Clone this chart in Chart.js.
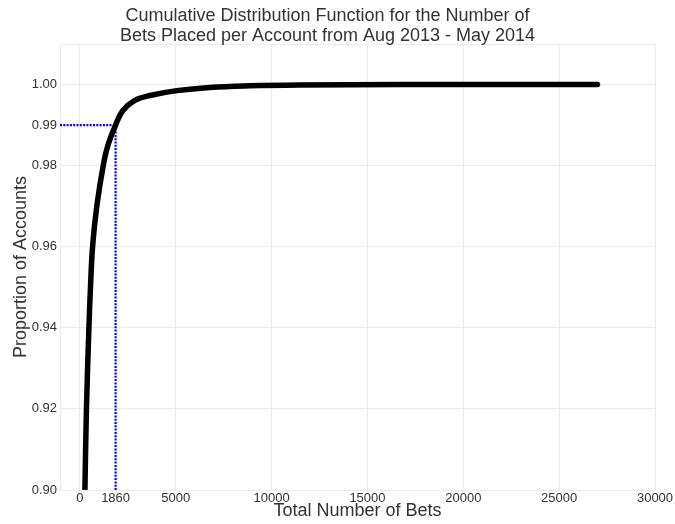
<!DOCTYPE html>
<html>
<head>
<meta charset="utf-8">
<title>CDF of bets per account</title>
<script src="https://cdn.jsdelivr.net/npm/chart.js@4.4.1/dist/chart.umd.min.js"></script>
<style>
    html, body { margin: 0; padding: 0; background: #ffffff; }
    #chartCdf { display: block; }
</style>
</head>
<body>
<canvas id="chartCdf" width="675" height="524"></canvas>
<script>
// --- Data ---
const betCounts = [200, 260, 339, 469, 550, 660, 880, 1214, 1460, 1860, 2240, 2866, 3650, 5050, 6770, 8860, 11460, 16680, 27000];
const proportions = [0.885, 0.900, 0.920, 0.940, 0.950, 0.960, 0.970, 0.980, 0.985, 0.990, 0.9936, 0.9961, 0.9973, 0.9985, 0.9993, 0.9997, 0.9999, 1.0, 1.0];

const markerBets = 1860;
const markerProportion = 0.99;

const xTickValues = [0, 1860, 5000, 10000, 15000, 20000, 25000, 30000];
const yTickValues = [0.90, 0.92, 0.94, 0.96, 0.98, 0.99, 1.00, 1.01];

const xMin = -1040, xMax = 30000;
const yMin = 0.90, yMax = 1.01;

const textColor = '#333333';
const gridColor = '#ebebeb';
const fontFamily = "'Liberation Sans', Arial, sans-serif";

document.addEventListener('DOMContentLoaded', () => {
    const ctx = document.getElementById('chartCdf');
    if (!ctx) return;

    const cdfPoints = betCounts.map((b, i) => ({ x: b, y: proportions[i] }));

    new Chart(ctx, {
        type: 'line',
        data: {
            datasets: [{
                label: 'CDF',
                data: cdfPoints,
                borderColor: '#000000',
                borderWidth: 5.5,
                borderCapStyle: 'round',
                pointRadius: 0,
                tension: 0.4,
                clip: 0
            }, {
                label: 'h-marker',
                data: [{ x: xMin, y: markerProportion }, { x: markerBets, y: markerProportion }],
                borderColor: '#0000ff',
                borderWidth: 2.2,
                borderDash: [2, 1.3],
                pointRadius: 0,
                clip: 0
            }, {
                label: 'v-marker',
                data: [{ x: markerBets, y: yMin }, { x: markerBets, y: markerProportion }],
                borderColor: '#0000ff',
                borderWidth: 2.2,
                borderDash: [2, 1.3],
                pointRadius: 0,
                clip: 0
            }]
        },
        options: {
            responsive: false,
            animation: false,
            layout: { padding: { left: 0, right: 20, top: 0, bottom: 0 } },
            plugins: {
                legend: { display: false },
                tooltip: { enabled: false },
                title: {
                    display: true,
                    text: ['Cumulative Distribution Function for the Number of',
                           'Bets Placed per Account from Aug 2013 - May 2014'],
                    color: textColor,
                    font: { family: fontFamily, size: 18, weight: 'normal', lineHeight: 20 / 18 },
                    padding: { top: 6, bottom: -2 }
                }
            },
            scales: {
                x: {
                    type: 'linear',
                    min: xMin,
                    max: xMax,
                    afterBuildTicks: (scale) => {
                        scale.ticks = xTickValues.map(v => ({ value: v }));
                    },
                    afterFit: (scale) => { scale.height = 34; },
                    ticks: {
                        color: textColor,
                        font: { family: fontFamily, size: 13 },
                        padding: 1,
                        maxRotation: 0,
                        autoSkip: false,
                        callback: (v) => String(v)
                    },
                    grid: {
                        drawTicks: false,
                        color: (c) => (c.tick && c.tick.value === markerBets) ? 'rgba(0,0,0,0)' : gridColor,
                        lineWidth: 1
                    },
                    border: { color: gridColor },
                    title: {
                        display: true,
                        text: 'Total Number of Bets',
                        color: textColor,
                        font: { family: fontFamily, size: 18 },
                        padding: { top: 0, bottom: 2 }
                    }
                },
                y: {
                    type: 'linear',
                    min: yMin,
                    max: yMax,
                    afterBuildTicks: (scale) => {
                        scale.ticks = yTickValues.map(v => ({ value: v }));
                    },
                    afterFit: (scale) => { scale.width = 60; },
                    ticks: {
                        color: textColor,
                        font: { family: fontFamily, size: 13 },
                        padding: 3,
                        autoSkip: false,
                        callback: (v) => v > 1.005 ? '' : v.toFixed(2)
                    },
                    grid: {
                        drawTicks: false,
                        color: (c) => (c.tick && Math.abs(c.tick.value - markerProportion) < 1e-9) ? 'rgba(0,0,0,0)' : gridColor,
                        lineWidth: 1
                    },
                    border: { color: gridColor },
                    title: {
                        display: true,
                        text: 'Proportion of Accounts',
                        color: textColor,
                        font: { family: fontFamily, size: 18 },
                        padding: { top: 10, bottom: 0 }
                    }
                }
            }
        }
    });
});
</script>
</body>
</html>
